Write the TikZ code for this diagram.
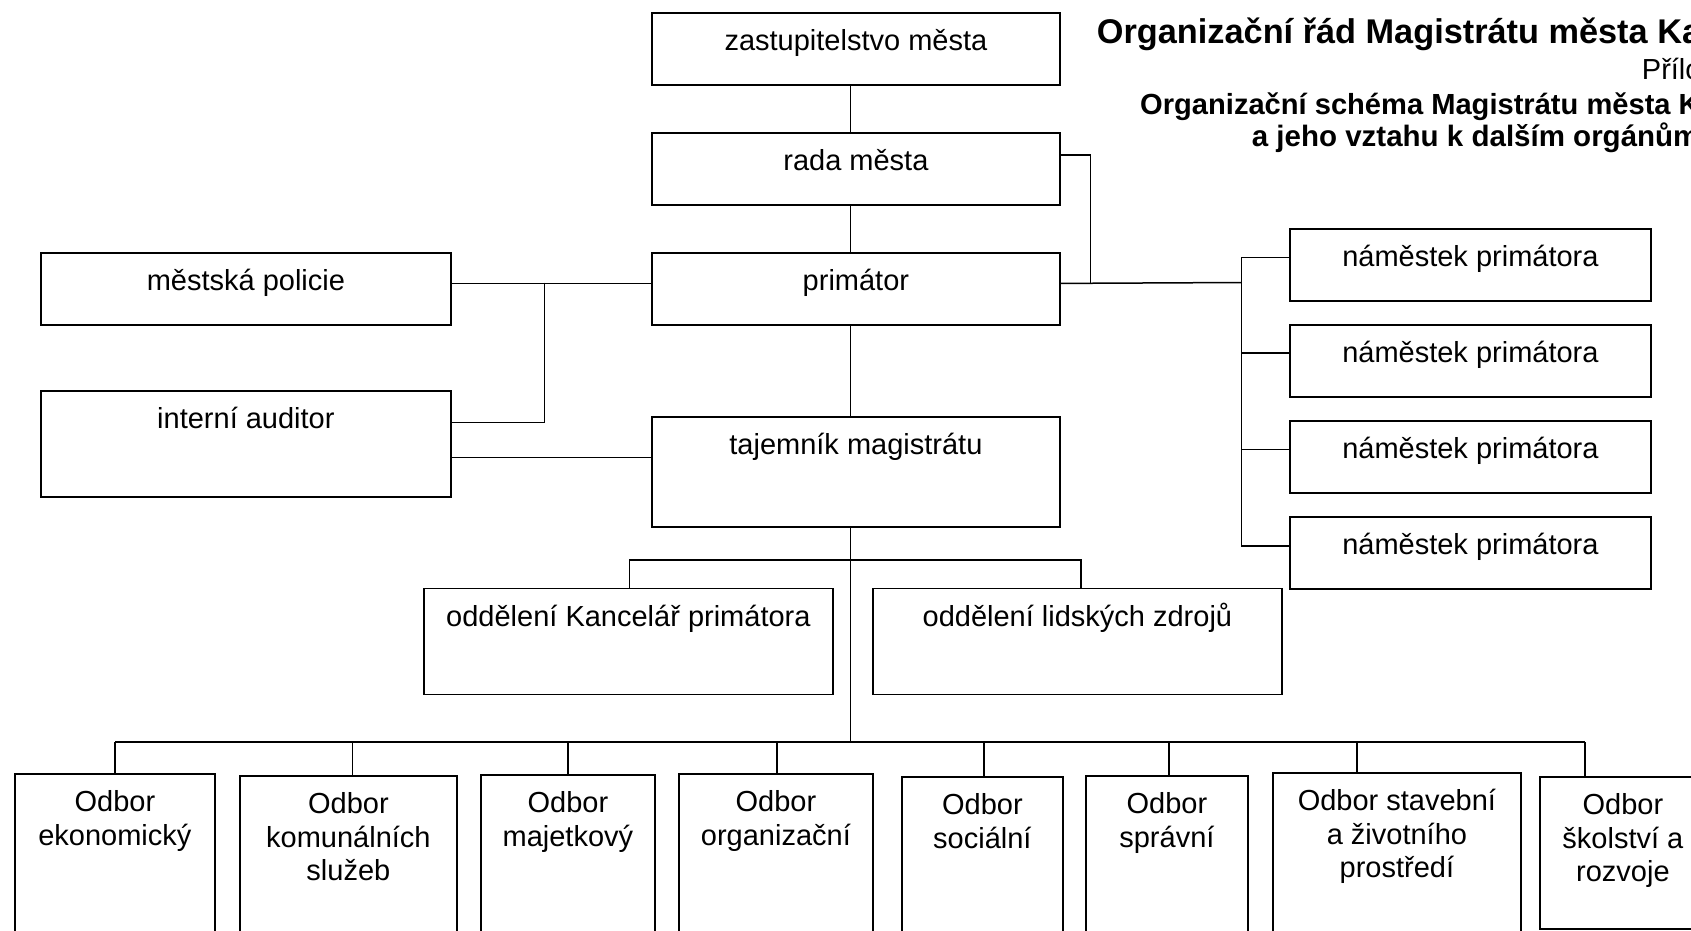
\documentclass[tikz,border=0pt]{standalone}
\usepackage{fontspec}
\setmainfont{Liberation Sans}
\newcommand\mylines[1]{\begin{tabular}[t]{@{}c@{}}#1\end{tabular}}
\begin{document}
\begin{tikzpicture}[x=1pt,y=-1pt,
  box/.style={draw, line width=1.8pt, fill=white, inner sep=0pt, anchor=north west,
    text height=38pt, font=\fontsize{29}{33.4}\selectfont},
  conn/.style={line width=1.5pt},
  ttl/.style={anchor=base west, inner sep=0pt}]
\fill[white] (0,0) rectangle (1691,930);
\useasboundingbox (0,0) rectangle (1691,930);
\clip (0,0) rectangle (1691,930);

% boxes
\node[box, minimum width=408pt, text depth=34pt] (zast) at (651,12) {zastupitelstvo města};
\node[box, minimum width=408pt, text depth=34pt] (rada) at (651,132) {rada města};
\node[box, minimum width=408pt, text depth=34pt] (prim) at (651,252) {primátor};
\node[box, minimum width=408pt, text depth=72pt] (tajem) at (651,416) {tajemník magistrátu};
\node[box, minimum width=410pt, text depth=34pt] (policie) at (40,252) {městská policie};
\node[box, minimum width=410pt, text depth=68pt] (auditor) at (40,390) {interní auditor};
\node[box, minimum width=409pt, text depth=68pt] (kanc) at (423,587.5) {oddělení Kancelář primátora};
\node[box, minimum width=409pt, text depth=68pt] (lidske) at (872,587.5) {oddělení lidských zdrojů};
\node[box, minimum width=361pt, text depth=34pt] (nam1) at (1289,228) {náměstek primátora};
\node[box, minimum width=361pt, text depth=34pt] (nam2) at (1289,324) {náměstek primátora};
\node[box, minimum width=361pt, text depth=34pt] (nam3) at (1289,420) {náměstek primátora};
\node[box, minimum width=361pt, text depth=34pt] (nam4) at (1289,516) {náměstek primátora};

\node[box, minimum width=200pt, text depth=200pt] (b1) at (14,773) {\mylines{Odbor\\ekonomický}};
\node[box, minimum width=217pt, text depth=200pt] (b2) at (239,775) {\mylines{Odbor\\komunálních\\služeb}};
\node[box, minimum width=174pt, text depth=200pt] (b3) at (480,774) {\mylines{Odbor\\majetkový}};
\node[box, minimum width=194pt, text depth=200pt] (b4) at (678,773) {\mylines{Odbor\\organizační}};
\node[box, minimum width=161pt, text depth=200pt] (b5) at (901,776) {\mylines{Odbor\\sociální}};
\node[box, minimum width=162pt, text depth=200pt] (b6) at (1085,775) {\mylines{Odbor\\správní}};
\node[box, minimum width=248pt, text depth=200pt] (b7) at (1272,772) {\mylines{Odbor stavební\\a životního\\prostředí}};
\node[box, minimum width=166pt, text depth=114pt] (b8) at (1539,776) {\mylines{Odbor\\školství a\\rozvoje}};

% titles
\node[ttl, font=\bfseries\fontsize{34.3}{38}\selectfont] (t1) at (1096.7,43.5) {Organizační řád Magistrátu města Ka};
\node[ttl, font=\fontsize{29}{32}\selectfont] (t2) at (1641.7,79) {Přílo};
\node[ttl, font=\bfseries\fontsize{29.1}{32}\selectfont] (t3) at (1140,114) {Organizační schéma Magistrátu města K};
\node[ttl, font=\bfseries\fontsize{29.5}{32}\selectfont] (t4) at (1251.7,146) {a jeho vztahu k dalším orgánům};

% coordinates
\coordinate (tx) at (850.7,0);
\coordinate (jL) at (544.6,282.5);
\coordinate (jR) at (1090.7,282.5);
\coordinate (nb) at (1241.3,282.5);
\coordinate (pL) at ([yshift=5.5pt]policie.east);
\coordinate (aU) at ([yshift=21.3pt]auditor.east);
\coordinate (aL) at ([yshift=-13.7pt]auditor.east);
\coordinate (rR) at ([yshift=14pt]rada.east);
\coordinate (pR) at ([yshift=5.5pt]prim.east);
\coordinate (n1) at ([yshift=7.3pt]nam1.west);
\coordinate (n2) at ([yshift=8pt]nam2.west);
\coordinate (n3) at ([yshift=7.3pt]nam3.west);
\coordinate (n4) at ([yshift=7pt]nam4.west);
\coordinate (kx) at (629.6,560);
\coordinate (lx) at (1080.8,560);
\coordinate (d1) at (115,742);
\coordinate (d2) at (352.5,742);
\coordinate (d3) at (568,742);
\coordinate (d4) at (777,742);
\coordinate (d5) at (984,742);
\coordinate (d6) at (1169,742);
\coordinate (d7) at (1357,742);
\coordinate (d8) at (1585,742);

% connectors
\draw[conn] (zast.south -| tx) -- (rada.north -| tx);
\draw[conn] (rada.south -| tx) -- (prim.north -| tx);
\draw[conn] (prim.south -| tx) -- (tajem.north -| tx);
\draw[conn] (pL) -- (pL -| prim.west);
\draw[conn] (jL) |- (aU);
\draw[conn] (aL) -- (aL -| tajem.west);
\draw[conn] (rR) -| (jR);
\draw[conn] (pR) -- (nb);
\draw[conn] (n1 -| nb) -- (n4 -| nb);
\draw[conn] (n1 -| nb) -- (n1);
\draw[conn] (n2 -| nb) -- (n2);
\draw[conn] (n3 -| nb) -- (n3);
\draw[conn] (n4 -| nb) -- (n4);
\draw[conn] (tajem.south -| tx) -- (tx |- d1);
\draw[conn] (kx |- kanc.north) -- (kx) -- (lx) -- (lx |- lidske.north);
\draw[conn] (d1) -- (d8);
\draw[conn] (d1) -- (d1 |- b1.north);
\draw[conn] (d2) -- (d2 |- b2.north);
\draw[conn] (d3) -- (d3 |- b3.north);
\draw[conn] (d4) -- (d4 |- b4.north);
\draw[conn] (d5) -- (d5 |- b5.north);
\draw[conn] (d6) -- (d6 |- b6.north);
\draw[conn] (d7) -- (d7 |- b7.north);
\draw[conn] (d8) -- (d8 |- b8.north);
\end{tikzpicture}
\end{document}
